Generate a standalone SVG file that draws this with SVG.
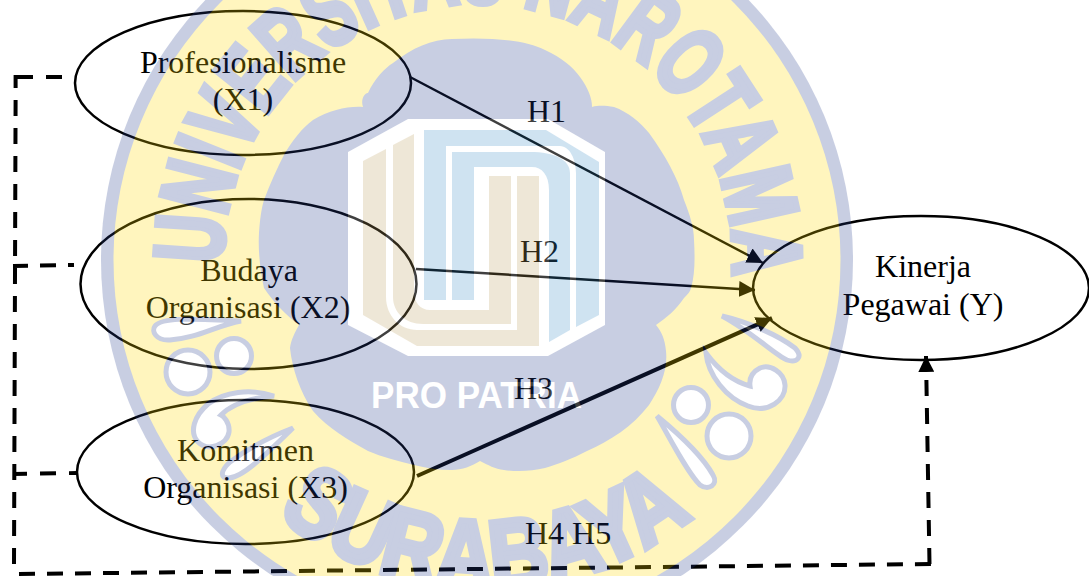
<svg xmlns="http://www.w3.org/2000/svg" width="1089" height="576" viewBox="0 0 1089 576">
<defs>
<style>
.node{fill:none;stroke:#000;stroke-width:2.5}
.lbl{font-family:"Liberation Serif","Times New Roman",serif;font-size:32px;fill:#000}
.mid{text-anchor:middle}
.solid{fill:none;stroke:#000;stroke-width:2.4}
.dash{fill:none;stroke:#000;stroke-width:4}
.mark{font-family:"Liberation Sans",Arial,sans-serif;font-weight:bold;font-size:98px;fill:#273f8f;stroke:#273f8f;stroke-width:6;stroke-linejoin:miter}
.drop{fill:#fff;stroke:#273f8f;stroke-width:5}
</style>
<marker id="head" markerUnits="userSpaceOnUse" viewBox="0 0 16 16" refX="16" refY="8" markerWidth="16" markerHeight="16" orient="auto"><path d="M0 0L16 8L0 16Z" fill="#000"/></marker>
<path id="arcTop" d="M225 290A255 255 0 1 1 698 387"/>
<path id="arcBot" d="M278 515A330 330 0 0 0 700 510"/>
</defs>
<rect width="1089" height="576" fill="#fff"/>
<g id="connectors">
<path class="solid" d="M410 77L763 263" marker-end="url(#head)"/>
<path class="solid" d="M416 269L755 290" marker-end="url(#head)"/>
<path class="solid" style="stroke-width:4" d="M417 476L772 318" marker-end="url(#head)"/>
<path class="dash" d="M62 77H46M33 77H15.6V88"/>
<path class="dash" stroke-dasharray="16 12" d="M15.6 100L14 565"/>
<path class="dash" stroke-dasharray="6 12 16 12 16" d="M74 265L13 266"/>
<path class="dash" stroke-dasharray="8 13 16 13 15" d="M77 473L13 474"/>
<path class="dash" stroke-dasharray="16 12" d="M19 574L931 564"/>
<path class="dash" stroke-dasharray="16 12" d="M929.5 564L926 356" marker-end="url(#head)"/>
</g>
<g id="x1"><ellipse class="node" cx="243" cy="83" rx="168" ry="72"/><text class="lbl mid" x="243" y="73">Profesionalisme</text><text class="lbl mid" x="243" y="110">(X1)</text></g>
<g id="x2"><ellipse class="node" cx="248.5" cy="284" rx="168" ry="85"/><text class="lbl mid" x="249" y="281">Budaya</text><text class="lbl mid" x="248" y="318">Organisasi (X2)</text></g>
<g id="x3"><ellipse class="node" cx="245.5" cy="472" rx="168.5" ry="72"/><text class="lbl mid" x="245.5" y="461">Komitmen</text><text class="lbl mid" x="245.5" y="498">Organisasi (X3)</text></g>
<g id="y"><ellipse class="node" cx="921" cy="288" rx="168" ry="72"/><text class="lbl mid" x="923" y="277">Kinerja</text><text class="lbl mid" x="923" y="315">Pegawai (Y)</text></g>
<g id="labels">
<text class="lbl" x="527" y="122">H1</text>
<text class="lbl" x="520" y="262">H2</text>
<text class="lbl" x="514" y="399">H3</text>
<text class="lbl" x="525" y="544">H4 H5</text>
</g>
<g id="watermark" opacity="0.25">
<circle cx="477" cy="260" r="376" fill="#273f8f"/>
<circle cx="477" cy="260" r="363.5" fill="#ffdb00"/>
<path fill="#273f8f" d="M363 107C360 98 366 92 368 93C375 78 385 68 393 63C412 48 432 39 452 39C490 37 525 40 545 50C562 58 572 66 580 77C588 88 592 98 592 107C600 105 606 106 614 107C628 112 640 122 649 133C665 155 678 178 684 200C690 215 694 228 694 240C695 258 695 275 691 288C690 292 688 294 684 298C676 310 666 318 656 325C662 332 665 340 666 351C668 370 660 388 649 405C633 426 610 441 587 451C572 459 558 464 545 468C532 471 518 472 504 470C495 469 488 465 480 461C472 466 462 470 452 470C438 470 426 468 414 465C398 461 382 457 368 451C348 440 328 428 313 411C300 392 292 368 290 348C291 340 295 332 299 325C287 316 274 303 264 288C260 270 258 250 259 233C260 220 261 210 264 200C270 184 277 168 285 153C293 140 302 128 313 120C330 110 348 106 363 107Z"/>
<polygon fill="#fff" points="408,119 548,119 605,152 605,325 548,356 408,356 348,325 348,152"/>
<path fill="#bfa363" d="M363 161L386 149V297C386 316 400 330 417 330H517V176H539V346H417L363 315Z"/>
<path fill="#bfa363" d="M393 145L414 134V292C414 302 420 310 430 310H489V176H511V324H423C405 324 393 312 393 297Z"/>
<path fill="#4393cb" d="M424 130H546L599 162V315L576 327V173C576 160 570 146 560 146H446V300H424Z"/>
<path fill="#4393cb" d="M452 152H530C555 152 570 160 570 173V330L549 342V190C549 175 542 167 532 167H474V300H452Z"/>
<text class="mark"><textPath href="#arcTop" startOffset="26" textLength="825" lengthAdjust="spacingAndGlyphs">UNIVERSITAS NAROTAMA</textPath></text>
<text class="mark"><textPath href="#arcBot" textLength="448" lengthAdjust="spacingAndGlyphs">SURABAYA</textPath></text>
<text x="371" y="408" textLength="211" lengthAdjust="spacingAndGlyphs" style="font-family:'Liberation Sans',Arial,sans-serif;font-weight:bold;font-size:36px;fill:#fff">PRO PATRIA</text>
<path class="drop" d="M241 321C215 326 198 338 170 340C156 341 151 331 155 326C161 318 185 318 241 321Z"/>
<circle class="drop" cx="188" cy="372" r="22"/>
<circle class="drop" cx="234" cy="356" r="17.5"/>
<path class="drop" d="M274 396C250 388 224 392 208 404C194 416 189 432 198 442C208 452 227 445 229 432C230 422 223 416 221 415C231 405 250 398 274 396Z"/>
<path class="drop" d="M293 428C272 436 250 447 230 462C220 471 220 479 229 478C244 477 268 452 293 428Z"/>
<path class="drop" d="M722 316C748 322 778 335 795 348C804 358 796 363 787 360C775 355 752 332 722 316Z"/>
<path class="drop" d="M706 353C708 375 726 398 748 406C768 414 786 400 785 385C784 372 770 364 760 368C752 372 749 378 750 386C735 382 720 372 706 353Z"/>
<circle class="drop" cx="691" cy="405" r="17.5"/>
<circle class="drop" cx="729" cy="436" r="22"/>
<path class="drop" d="M657 416C674 430 702 455 713 475C719 485 708 491 700 485C687 472 671 440 657 416Z"/>
</g>
</svg>
